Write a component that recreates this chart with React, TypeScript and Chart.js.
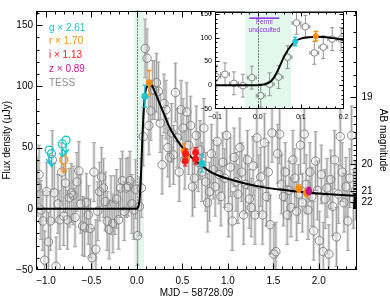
import { useEffect, useRef } from "react";
import { Chart, registerables } from "chart.js";

Chart.register(...registerables);

const FONT = "'Liberation Sans', Arial, Helvetica, sans-serif";

// ---------- data ----------
const TESS_START = -1.0975;
const TESS_CADENCE = 0.020833;
const TESS_ERR = 24;
const TESS_FLUX = [
  18, 28, -1, -10, -42, 14, -27, -10, 40, 13,
  -47, 4, -9, 30, -6, 21, -9, 9, 13, 11,
  -7, 22, 31, 4, -14, -15, 5, -5, -16, -40,
  30, -33, -2, 14, 26, 17, 6, -10, -17, 3,
  -12, 3, 8, -9, 17, 23, -2, 17, 18, 23,
  4, -1, 16,
  -22, 2, 17, 59, 131, 123, 68, 80, 97, 97,
  103, 96, 70, 36, 86, 81, 50, 42, 62, 44,
  95, 58, 30, 81, 66, 40, 79, 52, 68, 18,
  25, 60, 38, 48, 30, 66, 22, 5, 14, 45,
  32, 18, 55, 28, 10, 38, 25, 60, 1, 34,
  -10, 42, 22, 12, 50, 30, -5, 20, 40, 8,
  1, 35, -5, 58, 20, 26, -5, 54, 10, 30,
  -13, 62, -37, -35, 45, 61, 20, 10, 30, -5,
  15, 1, 40, 25, -2, 12, 52, 5, 61, 20,
  -1, 30, 10, -18, 39, 15, -26, 28, -35, 8,
  17, -37, 24, 2, 40, -23, 12, 59, 30, 5,
  18, -10, 25, 60, 8, 15,
];

const MODEL_T = [-1.11, 0, 0.01, 0.02, 0.03, 0.04, 0.05, 0.06, 0.07, 0.08, 0.09, 0.1, 0.12, 0.14, 0.16, 0.18, 0.2, 0.25, 0.3, 0.35, 0.4, 0.5, 0.6, 0.7, 0.8, 0.9, 1.0, 1.2, 1.4, 1.6, 1.8, 2.0, 2.2, 2.42];
const MODEL_F = [0, 0, 1, 3, 8, 20, 38, 58, 74, 86, 94, 98, 101, 102, 101, 98.5, 95, 86, 77, 68, 61, 50, 42, 36, 30.5, 27, 24.5, 20.5, 17.5, 15.5, 13.8, 12.5, 11.4, 10.5];

const G_T = [0.087, 0.715];
const G_F = [92, 37];
const G_E = [9, 7];
const R_T = [0.135, 0.52, 0.545, 1.78, 1.865];
const R_F = [103, 47, 43, 16.5, 13];
const R_E = [10, 6, 5, 3, 3];
const I_T = [0.53, 0.535, 0.645, 0.645];
const I_F = [39, 45, 46, 40.5];
const I_E = [4, 4, 4, 4];
const Z_T = [1.89];
const Z_F = [14.5];
const Z_E = [3];
const G_LIM_T = [-0.965, -0.94, -0.82, -0.78];
const G_LIM_F = [48, 45, 53, 56];
const R_LIM_T = [-0.805];
const R_LIM_F = [40];

const BAND = [-0.03, 0.078];
const FERMI_X = [-0.02, 0.05];
const FERMI_Y = 141;

const X_TICKS = [-1, -0.5, 0, 0.5, 1, 1.5, 2];
const Y_TICKS = [-50, 0, 50, 100, 150];
const MAG_TICKS = [19, 20, 21, 22];
const INSET_X_TICKS = [-0.1, 0, 0.1, 0.2];
const INSET_Y_TICKS = [-50, 0, 50, 100, 150];

const G_COLOR = "#18c6cf";
const R_COLOR = "#ff8c00";
const I_COLOR = "#ff1a1a";
const Z_COLOR = "#c8148c";
const TESS_COLOR = "#858585";
const FERMI_COLOR = "#8a2be2";

const LEGEND = [
  { text: "g × 2.61", color: G_COLOR },
  { text: "r × 1.70", color: R_COLOR },
  { text: "i × 1.13", color: I_COLOR },
  { text: "z × 0.89", color: Z_COLOR },
  { text: "TESS", color: "#8c8c8c" },
];

const magToFlux = (m: number) => Math.pow(10, (23.9 - m) / 2.5);
const fmt1 = (v: number) => (v < 0 ? "−" : "") + Math.abs(v).toFixed(1);
const fmt0 = (v: number) => (v < 0 ? "−" : "") + Math.abs(v).toFixed(0);

const pts = (t: number[], f: number[], e?: number[]) =>
  t.map((x, i) => ({ x, y: f[i], ey: e ? e[i] : 0 }));

// ---------- plugins ----------
const errorBars = {
  id: "errorBars",
  beforeDatasetDraw(chart: any, args: any) {
    const ds = chart.data.datasets[args.index];
    const eb = ds.errorBars;
    if (!eb) return;
    const { ctx, chartArea: a } = chart;
    const xs = chart.scales.x;
    const ys = chart.scales.y;
    const r = eb.gap || 0;
    ctx.save();
    ctx.beginPath();
    ctx.rect(a.left, a.top, a.right - a.left, a.bottom - a.top);
    ctx.clip();
    if (eb.shade) {
      ctx.fillStyle = eb.shade;
      for (const p of ds.data) {
        if (!p.ey) continue;
        const px = xs.getPixelForValue(p.x);
        const y1 = ys.getPixelForValue(p.y + p.ey);
        const y2 = ys.getPixelForValue(p.y - p.ey);
        ctx.fillRect(px - eb.shadeW / 2, y1, eb.shadeW, y2 - y1);
      }
    }
    ctx.strokeStyle = eb.color;
    ctx.lineWidth = eb.width || 1;
    ctx.beginPath();
    for (const p of ds.data) {
      const px = xs.getPixelForValue(p.x);
      const py = ys.getPixelForValue(p.y);
      if (p.ey) {
        const y1 = ys.getPixelForValue(p.y + p.ey);
        const y2 = ys.getPixelForValue(p.y - p.ey);
        if (y1 < py - r) { ctx.moveTo(px, y1); ctx.lineTo(px, py - r); }
        if (y2 > py + r) { ctx.moveTo(px, py + r); ctx.lineTo(px, y2); }
        if (eb.cap) {
          ctx.moveTo(px - eb.cap, y1); ctx.lineTo(px + eb.cap, y1);
          ctx.moveTo(px - eb.cap, y2); ctx.lineTo(px + eb.cap, y2);
        }
      }
      if (eb.ex) {
        const x1 = xs.getPixelForValue(p.x - eb.ex);
        const x2 = xs.getPixelForValue(p.x + eb.ex);
        if (x1 < px - r) { ctx.moveTo(x1, py); ctx.lineTo(px - r, py); }
        if (x2 > px + r) { ctx.moveTo(px + r, py); ctx.lineTo(x2, py); }
        ctx.moveTo(x1, py - eb.cap); ctx.lineTo(x1, py + eb.cap);
        ctx.moveTo(x2, py - eb.cap); ctx.lineTo(x2, py + eb.cap);
      }
      if (eb.limit) {
        const y1 = py + eb.limit;
        ctx.moveTo(px, py + r); ctx.lineTo(px, y1);
        ctx.moveTo(px - 3, y1 - 4); ctx.lineTo(px, y1); ctx.lineTo(px + 3, y1 - 4);
      }
    }
    ctx.stroke();
    ctx.restore();
  },
};

const decor = {
  id: "decor",
  beforeDraw(chart: any, _a: any, o: any) {
    if (!o.whiteBg) return;
    const { ctx, chartArea: a } = chart;
    ctx.save();
    ctx.fillStyle = "#fff";
    ctx.fillRect(a.left, a.top, a.right - a.left, a.bottom - a.top);
    ctx.restore();
  },
  beforeDatasetsDraw(chart: any) {
    const { ctx, chartArea: a } = chart;
    const xs = chart.scales.x;
    ctx.save();
    const b0 = xs.getPixelForValue(BAND[0]);
    const b1 = xs.getPixelForValue(BAND[1]);
    ctx.fillStyle = "#e2f8ea";
    ctx.fillRect(b0, a.top, b1 - b0, a.bottom - a.top);
    const z = Math.round(xs.getPixelForValue(0)) + 0.5;
    ctx.strokeStyle = "#000";
    ctx.lineWidth = 1;
    ctx.setLineDash([1, 2]);
    ctx.beginPath();
    ctx.moveTo(z, a.top);
    ctx.lineTo(z, a.bottom);
    ctx.stroke();
    ctx.restore();
  },
  afterDatasetsDraw(chart: any, _a: any, o: any) {
    const { ctx, chartArea: a } = chart;
    ctx.save();
    if (o.legend) {
      ctx.font = `10px ${FONT}`;
      ctx.textAlign = "left";
      ctx.textBaseline = "middle";
      LEGEND.forEach((l, i) => {
        ctx.fillStyle = l.color;
        ctx.fillText(l.text, a.left + 13, a.top + 17.3 + i * 13.8);
      });
    }
    if (o.fermi) {
      const xs = chart.scales.x;
      const ys = chart.scales.y;
      const x0 = xs.getPixelForValue(FERMI_X[0]);
      const x1 = xs.getPixelForValue(FERMI_X[1]);
      const y = ys.getPixelForValue(FERMI_Y);
      ctx.strokeStyle = FERMI_COLOR;
      ctx.lineWidth = 1.5;
      ctx.beginPath();
      ctx.moveTo(x0, y);
      ctx.lineTo(x1, y);
      ctx.stroke();
      ctx.fillStyle = FERMI_COLOR;
      ctx.font = `6.5px ${FONT}`;
      ctx.textAlign = "center";
      ctx.textBaseline = "middle";
      ctx.fillText("Fermi", (x0 + x1) / 2, y + 4.5);
      ctx.fillText("unocculted", (x0 + x1) / 2, y + 12);
    }
    ctx.restore();
  },
  afterDraw(chart: any, _a: any, o: any) {
    const { ctx, chartArea: a } = chart;
    const xs = chart.scales.x;
    const ys = chart.scales.y;
    const L = Math.round(a.left) + 0.5;
    const R = Math.round(a.right) - 0.5;
    const T = Math.round(a.top) + 0.5;
    const B = Math.round(a.bottom) - 0.5;
    ctx.save();
    ctx.strokeStyle = "#000";
    ctx.lineWidth = 1;
    ctx.strokeRect(L, T, R - L, B - T);
    ctx.beginPath();
    const xt = (v: number, len: number) => {
      const p = Math.round(xs.getPixelForValue(v)) + 0.5;
      if (p < L - 0.6 || p > R + 0.6) return;
      ctx.moveTo(p, B); ctx.lineTo(p, B - len);
      ctx.moveTo(p, T); ctx.lineTo(p, T + len);
    };
    const yt = (v: number, len: number, left: boolean, right: boolean) => {
      const p = Math.round(ys.getPixelForValue(v)) + 0.5;
      if (p < T - 0.6 || p > B + 0.6) return;
      if (left) { ctx.moveTo(L, p); ctx.lineTo(L + len, p); }
      if (right) { ctx.moveTo(R, p); ctx.lineTo(R - len, p); }
    };
    for (let v = Math.ceil(xs.min / o.xMinor) * o.xMinor; v <= xs.max + 1e-9; v += o.xMinor) xt(v, o.minor);
    o.xMajor.forEach((v: number) => xt(v, o.major));
    const mirror = !o.mag;
    for (let v = Math.ceil(ys.min / o.yMinor) * o.yMinor; v <= ys.max + 1e-9; v += o.yMinor) yt(v, o.minor, true, mirror);
    o.yMajor.forEach((v: number) => yt(v, o.major, true, mirror));
    if (o.mag) {
      for (let m = 18.4; m <= 25.0001; m += 0.1) yt(magToFlux(m), o.minor, false, true);
      MAG_TICKS.forEach((m) => yt(magToFlux(m), o.major, false, true));
    }
    ctx.stroke();
    ctx.restore();
  },
};

function buildDatasets(inset: boolean) {
  const s = inset ? 0.85 : 1;
  const colored = (data: any, color: string) => ({
    data,
    pointRadius: 3.4 * s,
    pointBackgroundColor: color,
    pointBorderColor: color,
    pointBorderWidth: 0,
    errorBars: { color, cap: 2.2, width: 1.3 },
  });
  const limit = (data: any, color: string) => ({
    data,
    pointRadius: 4,
    pointBackgroundColor: "rgba(0,0,0,0)",
    pointBorderColor: color,
    pointBorderWidth: 1.3,
    errorBars: { color, limit: 13, gap: 4, width: 1.3 },
  });
  return [
    colored(pts(Z_T, Z_F, Z_E), Z_COLOR),
    colored(pts(I_T, I_F, I_E), I_COLOR),
    colored(pts(R_T, R_F, R_E), R_COLOR),
    colored(pts(G_T, G_F, G_E), G_COLOR),
    limit(pts(G_LIM_T, G_LIM_F), G_COLOR),
    limit(pts(R_LIM_T, R_LIM_F), R_COLOR),
    {
      type: "line",
      data: MODEL_T.map((x, i) => ({ x, y: MODEL_F[i] })),
      borderColor: "#000",
      borderWidth: 2,
      pointRadius: 0,
      cubicInterpolationMode: "monotone",
      fill: false,
    },
    {
      data: TESS_FLUX.map((y, i) => ({ x: TESS_START + i * TESS_CADENCE, y, ey: TESS_ERR })),
      pointRadius: inset ? 3.3 : 4.2,
      pointBackgroundColor: "rgba(0,0,0,0)",
      pointBorderColor: TESS_COLOR,
      pointBorderWidth: 1,
      errorBars: inset
        ? { color: "#909090", cap: 2, gap: 3.3, ex: TESS_CADENCE / 2 }
        : { color: "#a0a0a0", cap: 2, gap: 4.2, shade: "#dcdcdc", shadeW: 3 },
    },
  ];
}

const tickFont = { family: FONT, size: 10 };

export default function App() {
  const mainRef = useRef<HTMLCanvasElement>(null);
  const insetRef = useRef<HTMLCanvasElement>(null);

  useEffect(() => {
    const main = new Chart(mainRef.current as HTMLCanvasElement, {
      type: "scatter",
      data: { datasets: buildDatasets(false) as any },
      plugins: [errorBars, decor] as any,
      options: {
        animation: false,
        responsive: false,
        events: [],
        layout: { padding: { top: 5, left: 0, right: 0, bottom: 0 } },
        plugins: {
          legend: { display: false },
          tooltip: { enabled: false },
          decor: { legend: true, xMajor: X_TICKS, xMinor: 0.1, yMajor: Y_TICKS, yMinor: 10, major: 6, minor: 3, mag: true },
        } as any,
        scales: {
          x: {
            type: "linear",
            position: "bottom",
            min: -1.11,
            max: 2.42,
            grid: { display: false, drawTicks: false },
            border: { display: false },
            afterBuildTicks: (sc: any) => { sc.ticks = X_TICKS.map((value) => ({ value })); },
            afterFit: (sc: any) => { sc.height = 30; },
            ticks: { color: "#000", font: tickFont, padding: 5, maxRotation: 0, callback: (v: any) => fmt1(Number(v)) },
            title: { display: true, text: "MJD − 58728.09", color: "#000", font: tickFont, padding: { top: 0, bottom: 1 } },
          },
          y: {
            type: "linear",
            position: "left",
            min: -50,
            max: 162,
            grid: { display: false, drawTicks: false },
            border: { display: false },
            afterBuildTicks: (sc: any) => { sc.ticks = Y_TICKS.map((value) => ({ value })); },
            afterFit: (sc: any) => { sc.width = 36; },
            ticks: { color: "#000", font: tickFont, padding: 3, callback: (v: any) => fmt0(Number(v)) },
            title: { display: true, text: "Flux density (µJy)", color: "#000", font: tickFont, padding: { top: 1, bottom: 0 } },
          },
          yR: {
            type: "linear",
            position: "right",
            min: -50,
            max: 162,
            grid: { display: false, drawTicks: false },
            border: { display: false },
            afterBuildTicks: (sc: any) => { sc.ticks = MAG_TICKS.map((m) => ({ value: magToFlux(m) })); },
            afterFit: (sc: any) => { sc.width = 33; },
            ticks: { color: "#000", font: tickFont, padding: 4.5, callback: (v: any) => String(Math.round(23.9 - 2.5 * Math.log10(Number(v)))) },
            title: { display: true, text: "AB magnitude", color: "#000", font: tickFont, padding: { top: 1, bottom: 0 } },
          },
        },
      } as any,
    });

    const insetFont = { family: FONT, size: 7 };
    const inset = new Chart(insetRef.current as HTMLCanvasElement, {
      type: "scatter",
      data: { datasets: buildDatasets(true) as any },
      plugins: [errorBars, decor] as any,
      options: {
        animation: false,
        responsive: false,
        events: [],
        layout: { padding: { top: 11.5, left: 0, right: 5, bottom: 0 } },
        plugins: {
          legend: { display: false },
          tooltip: { enabled: false },
          decor: { whiteBg: true, fermi: true, xMajor: INSET_X_TICKS, xMinor: 0.02, yMajor: INSET_Y_TICKS, yMinor: 10, major: 4, minor: 2 },
        } as any,
        scales: {
          x: {
            type: "linear",
            min: -0.1,
            max: 0.2,
            grid: { display: false, drawTicks: false },
            border: { display: false },
            afterBuildTicks: (sc: any) => { sc.ticks = INSET_X_TICKS.map((value) => ({ value })); },
            afterFit: (sc: any) => { sc.height = 16; },
            ticks: { color: "#000", font: insetFont, padding: 3.5, maxRotation: 0, callback: (v: any) => fmt1(Number(v)) },
          },
          y: {
            type: "linear",
            min: -50,
            max: 155,
            grid: { display: false, drawTicks: false },
            border: { display: false },
            afterBuildTicks: (sc: any) => { sc.ticks = INSET_Y_TICKS.map((value) => ({ value })); },
            afterFit: (sc: any) => { sc.width = 30; },
            ticks: { color: "#000", font: insetFont, padding: 3, callback: (v: any) => fmt0(Number(v)) },
          },
        },
      } as any,
    });

    return () => {
      main.destroy();
      inset.destroy();
    };
  }, []);

  return (
    <div style={{ position: "fixed", left: 0, top: 0, width: 390, height: 300, background: "#fff" }}>
      <canvas ref={mainRef} width={390} height={300} style={{ position: "absolute", left: 0, top: 0 }} />
      <canvas ref={insetRef} width={167} height={125} style={{ position: "absolute", left: 185, top: 0 }} />
    </div>
  );
}
